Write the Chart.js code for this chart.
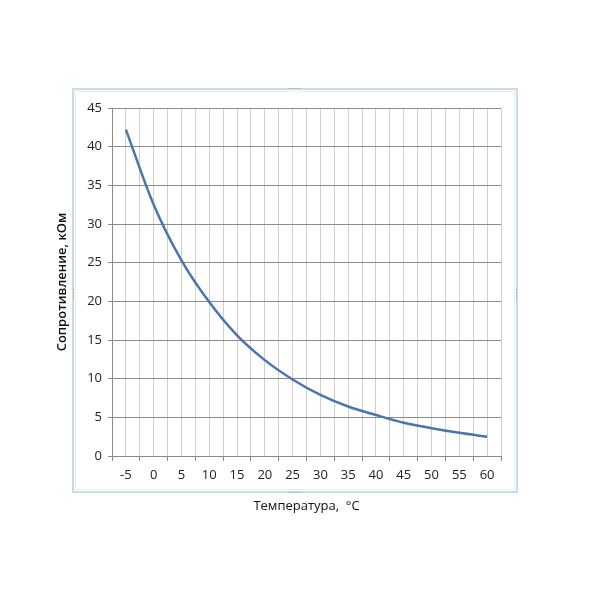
<!DOCTYPE html>
<html><head><meta charset="utf-8">
<script src="https://cdn.jsdelivr.net/npm/chart.js@4"></script>
<style>html,body{margin:0;padding:0;background:#fff}#w{width:600px;height:600px;position:relative}</style>
</head><body><div id="w"><canvas id="c" width="600" height="600"></canvas></div>
<script>
const temperatures = [-5, 0, 5, 10, 15, 20, 25, 30, 35, 40, 45, 50, 55, 60];
const resistance = [42.2, 32.5, 25.3, 19.9, 15.6, 12.4, 9.9, 7.9, 6.4, 5.3, 4.3, 3.6, 3.0, 2.5];
const yTicks = [0, 5, 10, 15, 20, 25, 30, 35, 40, 45];
const xTitle = 'Температура,  °C';
const yTitle = 'Сопротивление, кОм';

const frame = {
  id: 'frame',
  beforeDraw(chart) {
    const ctx = chart.ctx;
    ctx.save();
    ctx.fillStyle = '#fff';
    ctx.fillRect(0, 0, 600, 600);
    ctx.strokeStyle = '#c9dde8';
    ctx.lineWidth = 2;
    ctx.strokeRect(73, 89, 444, 403);
    ctx.strokeStyle = '#e6eff4';
    ctx.lineWidth = 1;
    ctx.strokeRect(75.5, 91.5, 439, 398);
    ctx.fillStyle = '#9fb3c2';
    for (let i = 0; i < 4; i++) {
      ctx.fillRect(289 + i * 3, 88, 2, 1);
      ctx.fillRect(289 + i * 3, 492, 2, 1);
      ctx.fillRect(73, 289 + i * 3, 1, 2);
      ctx.fillRect(516, 289 + i * 3, 1, 2);
    }
    ctx.restore();
  }
};

const minX = temperatures[0] - 2.5, maxX = temperatures[temperatures.length - 1] + 2.5;
new Chart(document.getElementById('c'), {
  type: 'line',
  data: {
    datasets: [{
      data: temperatures.map((t, i) => ({x: t, y: resistance[i]})),
      borderColor: '#4a76a8',
      borderWidth: 2.5,
      pointRadius: 0,
      tension: 0.35,
      cubicInterpolationMode: 'monotone',
      fill: false
    }]
  },
  options: {
    responsive: false,
    animation: false,
    layout: {padding: {left: 50, right: 99, top: 108, bottom: 82}},
    plugins: {legend: {display: false}, tooltip: {enabled: false}},
    scales: {
      x: {
        type: 'linear', min: minX, max: maxX,
        afterBuildTicks: s => {
          const t = [];
          for (let v = minX; v <= maxX + 0.001; v += 2.5) t.push({value: v});
          s.ticks = t;
        },
        afterFit: s => { s.height = 62; },
        ticks: {
          autoSkip: false, maxRotation: 0, padding: 6,
          color: '#222', font: {family: 'Open Sans', size: 13},
          callback: v => temperatures.includes(v) ? String(v) : ''
        },
        grid: {
          color: '#cfcfcf', lineWidth: 1, tickLength: 5,
          tickColor: c => (c.tick && temperatures.includes(c.tick.value)) ? 'rgba(0,0,0,0)' : '#8a8a8a'
        },
        border: {color: '#8a8a8a'},
        title: {display: true, text: xTitle, color: '#111', font: {family: 'Open Sans', size: 13}, padding: {top: 4, bottom: 4}}
      },
      y: {
        min: 0, max: 45,
        afterBuildTicks: s => { s.ticks = yTicks.map(v => ({value: v})); },
        afterFit: s => { s.width = 62; },
        ticks: {padding: 6, color: '#222', font: {family: 'Open Sans', size: 13}},
        grid: {color: '#8c8c8c', lineWidth: 1, tickLength: 4, tickColor: '#8a8a8a'},
        border: {color: '#8a8a8a'},
        title: {display: true, text: yTitle, color: '#111', font: {family: 'Open Sans', size: 13, weight: '600'}, padding: {top: 4, bottom: 4}}
      }
    }
  },
  plugins: [frame]
});
</script></body></html>
